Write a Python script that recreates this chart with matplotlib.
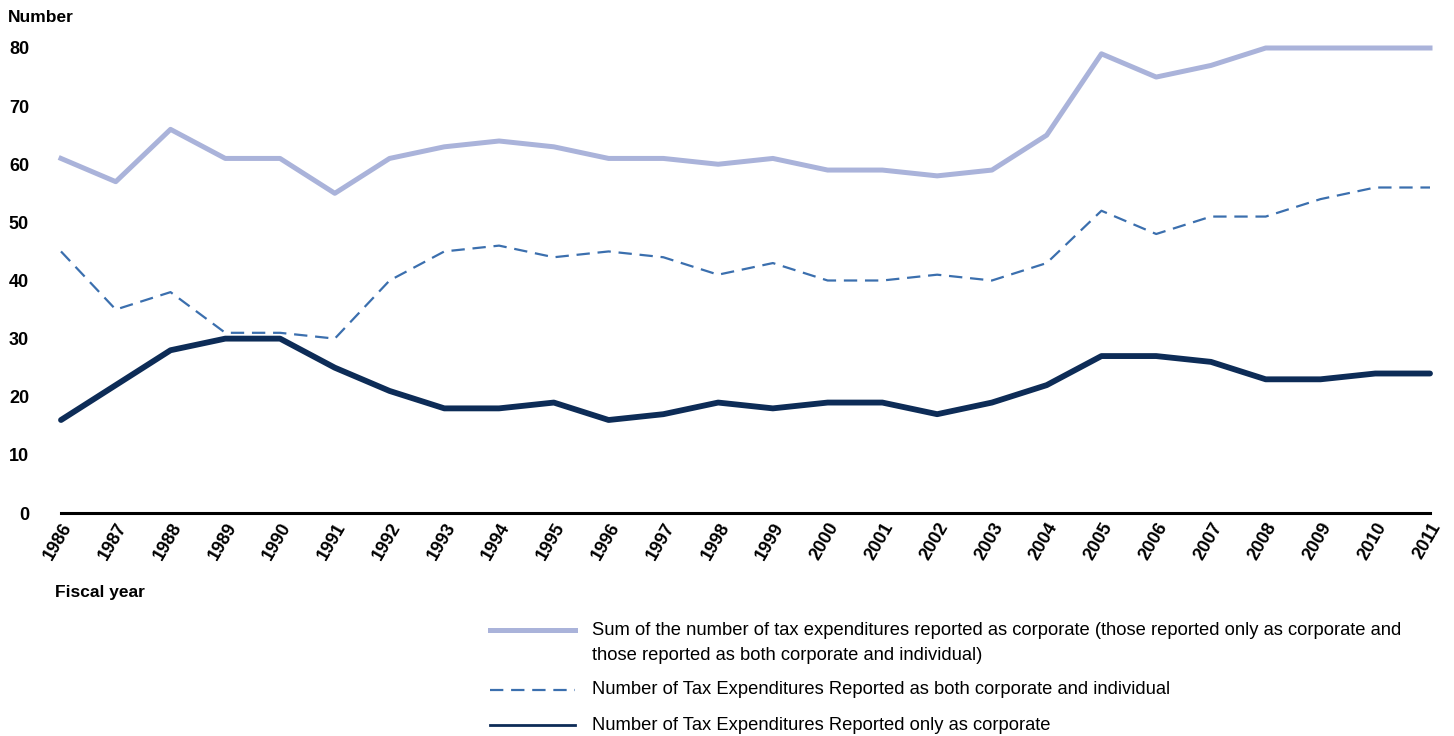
import matplotlib
matplotlib.use("Agg")
from matplotlib import pyplot as plt
from matplotlib.lines import Line2D

years = list(range(1986, 2012))
total_corp = [61, 57, 66, 61, 61, 55, 61, 63, 64, 63, 61, 61, 60, 61, 59, 59, 58, 59, 65, 79, 75, 77, 80, 80, 80, 80]
both_corp_indiv = [45, 35, 38, 31, 31, 30, 40, 45, 46, 44, 45, 44, 41, 43, 40, 40, 41, 40, 43, 52, 48, 51, 51, 54, 56, 56]
only_corp = [16, 22, 28, 30, 30, 25, 21, 18, 18, 19, 16, 17, 19, 18, 19, 19, 17, 19, 22, 27, 27, 26, 23, 23, 24, 24]
y_ticks = [0, 10, 20, 30, 40, 50, 60, 70, 80]

legend_labels = [
    "Sum of the number of tax expenditures reported as corporate (those reported only as corporate and\nthose reported as both corporate and individual)",
    "Number of Tax Expenditures Reported as both corporate and individual",
    "Number of Tax Expenditures Reported only as corporate",
]

c_light = "#aab3da"
c_dash = "#3b6fae"
c_dark = "#0d2c57"

bold_font = ["Liberation Sans", "DejaVu Sans"]

W, H = 1454, 736
fig = plt.figure(figsize=(W / 100, H / 100), dpi=100)
ax = fig.add_axes([61 / W, 1 - 513 / H, (1430 - 61) / W, (513 - 48) / H])

ax.plot(years, total_corp, color=c_light, linewidth=3.6, clip_on=False)
ax.plot(years, both_corp_indiv, color=c_dash, linewidth=1.6, dashes=(6, 3.5), clip_on=False)
ax.plot(years, only_corp, color=c_dark, linewidth=4.2, solid_capstyle="round", clip_on=False)

ax.set_xlim(1986, 2011)
ax.set_ylim(0, 80)
ax.set_yticks(y_ticks)
ax.set_xticks(years)
ax.set_yticklabels([str(v) for v in y_ticks], fontfamily=bold_font, fontweight="bold", fontsize=13)
ax.set_xticklabels([str(y) for y in years], fontfamily=bold_font, fontweight="bold", fontsize=13,
                   rotation=60, ha="right", va="top", rotation_mode="anchor")
ax.tick_params(axis="both", length=0)
ax.tick_params(axis="y", pad=23)
ax.tick_params(axis="x", pad=5)
for s in ["left", "right", "top"]:
    ax.spines[s].set_visible(False)
ax.spines["bottom"].set_linewidth(2.2)
ax.spines["bottom"].set_color("black")

fig.text(8 / W, 1 - 17 / H, "Number", fontfamily=bold_font, fontweight="bold", fontsize=12.5, va="center", ha="left")
fig.text(55 / W, 1 - 592 / H, "Fiscal year", fontfamily=bold_font, fontweight="bold", fontsize=12.5, va="center", ha="left")

# legend drawn by hand
leg_rows = [(630, 643), (690, 690), (725, 725)]
leg_styles = [dict(color=c_light, linewidth=3.6),
              dict(color=c_dash, linewidth=1.6, dashes=(6, 3.5)),
              dict(color=c_dark, linewidth=2.0)]
for (ly, ty), st, lab in zip(leg_rows, leg_styles, legend_labels):
    fig.add_artist(Line2D([490 / W, 575 / W], [1 - ly / H, 1 - ly / H], transform=fig.transFigure, **st))
    fig.text(592 / W, 1 - ty / H, lab, fontfamily=bold_font, fontsize=13.2, va="center", ha="left",
             linespacing=1.6)

plt.savefig("out.png", dpi=100)
